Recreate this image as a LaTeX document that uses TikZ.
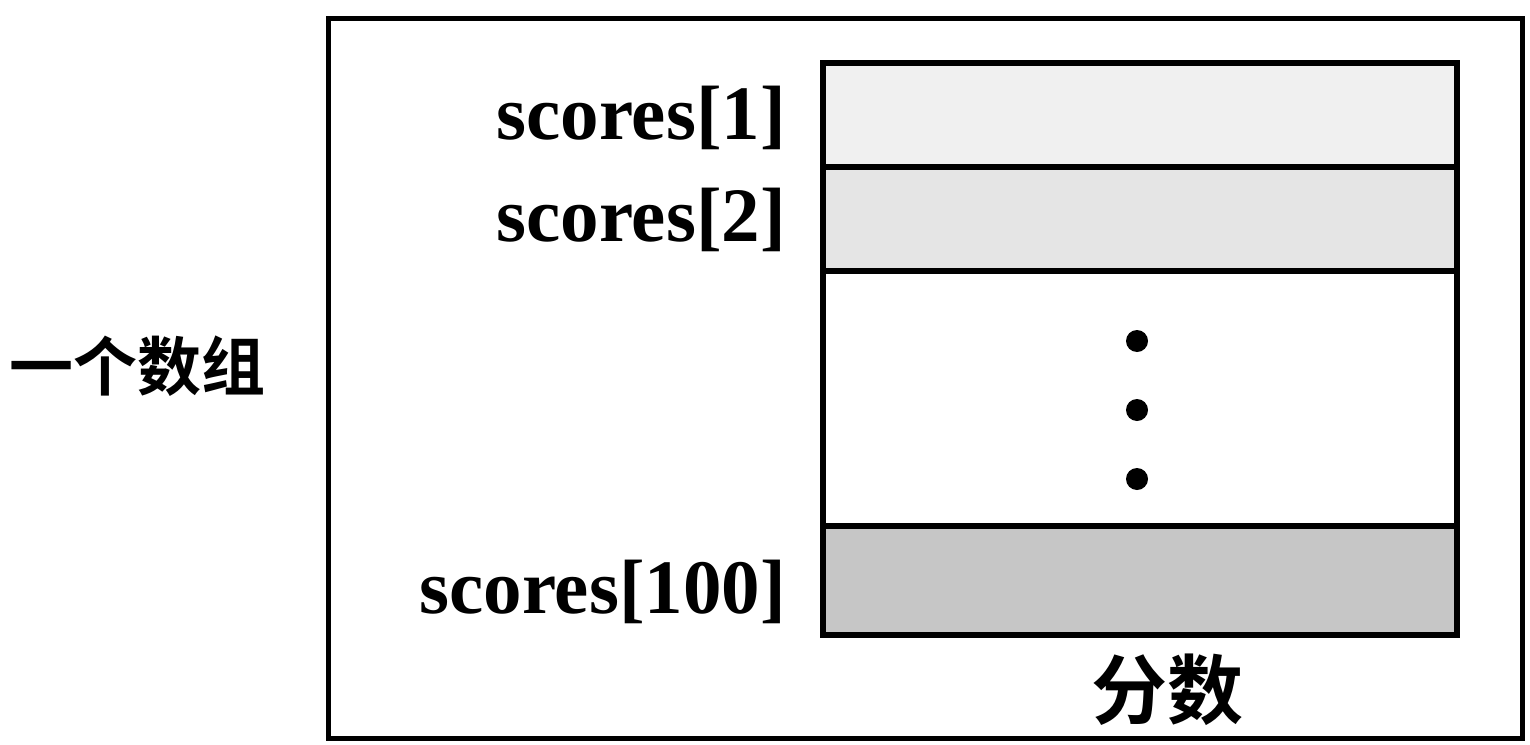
\documentclass[tikz,border=0pt]{standalone}
\usepackage{fontspec}
\setmainfont{Liberation Serif}
\newfontfamily\cjk{Noto Sans CJK SC}[BoldFont={* Bold}]
\begin{document}
\begin{tikzpicture}[x=1pt,y=-1pt,
  cell/.style={draw=black,line width=6pt,inner sep=0pt,minimum width=634pt,anchor=north west},
  lab/.style={font=\fontsize{77}{80}\selectfont\bfseries,anchor=east,inner sep=0pt},
  cjklab/.style={font=\fontsize{76}{80}\selectfont\cjk\bfseries,inner sep=0pt},
  dotm/.style={circle,fill=black,inner sep=0pt,minimum size=22pt}]
\useasboundingbox (0,0) rectangle (1530,744);
\node[draw=black,line width=5pt,inner sep=0pt,minimum width=1194pt,minimum height=720pt,anchor=north west] (outer) at (326,16) {};
\node[cell,minimum height=104pt,fill=gray!12] (c1) at (820,60) {};
\node[cell,minimum height=104pt,fill=gray!20] (c2) at (820,164) {};
\node[cell,minimum height=255pt,fill=white] (cg) at (820,268) {};
\node[cell,minimum height=109pt,fill=gray!45] (c100) at (820,523) {};
\node[dotm] (d1) at (1137,341) {};
\node[dotm] (d2) at (1137,410) {};
\node[dotm] (d3) at (1137,479) {};
\node[lab] (l1) at (786,118) {scores[1]};
\node[lab] (l2) at (786,220) {scores[2]};
\node[lab] (l100) at (786,592) {scores[100]};
\node[cjklab,font=\fontsize{64}{70}\selectfont\cjk\bfseries,anchor=east] (arr) at (266,366) {一个数组};
\node[cjklab] (fs) at (1167,690) {分数};
\end{tikzpicture}
\end{document}
